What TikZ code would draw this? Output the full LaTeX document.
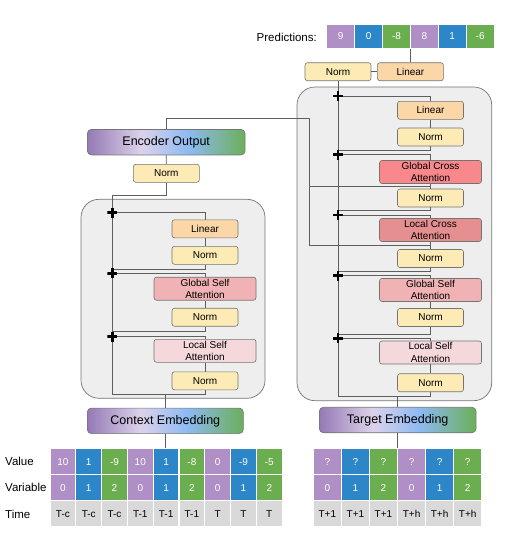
\documentclass[tikz,border=0pt]{standalone}
\usepackage{fontspec}
\setmainfont{Liberation Sans}
\usepackage{tikz}
\usetikzlibrary{positioning,calc}
\usepackage{xcolor}
\definecolor{varcol0}{HTML}{B08EC6}
\definecolor{varcol1}{HTML}{2C86C8}
\definecolor{varcol2}{HTML}{6BAE4F}
\definecolor{cellgray}{HTML}{D9D9D9}
\definecolor{normcol}{HTML}{FDEBB5}
\definecolor{lincol}{HTML}{FBD6A6}
\definecolor{gsacol}{HTML}{F0B2B4}
\definecolor{lsacol}{HTML}{F5D8DB}
\definecolor{gcacol}{HTML}{F8888B}
\definecolor{lcacol}{HTML}{E68F90}
\definecolor{stackcol}{HTML}{EEEEEE}
\definecolor{tfedge}{HTML}{747474}
\definecolor{tflinecol}{HTML}{5E5E5E}
\definecolor{embA}{HTML}{9579B5}
\definecolor{embB}{HTML}{DCD2EA}
\definecolor{embC}{HTML}{8DBAF2}
\definecolor{embD}{HTML}{6BAF5A}
\pgfdeclarehorizontalshading{tfembshade}{100bp}{color(0bp)=(embA); color(25bp)=(embA);
  color(42bp)=(embB); color(57bp)=(embC); color(75bp)=(embD); color(100bp)=(embD)}
\tikzset{
  tfblock/.style={draw=tfedge, line width=0.6pt, rounded corners=2.5pt, inner sep=0pt,
    align=center, font=\fontsize{10}{12.5}\selectfont},
  tfnorm/.style={tfblock, fill=normcol, minimum width=66pt, minimum height=18pt},
  tflinear/.style={tfblock, fill=lincol, minimum width=66pt, minimum height=18pt},
  tfattn/.style={tfblock, minimum width=102pt, minimum height=23pt},
  tfemb/.style={draw=tfedge, line width=0.6pt, rounded corners=4pt, shading=tfembshade,
    minimum height=25.5pt, inner sep=0pt, font=\fontsize{12.5}{14}\selectfont},
  tfstack/.style={draw=tfedge, line width=0.7pt, fill=stackcol, rounded corners=18pt},
  tfline/.style={draw=tflinecol, line width=0.9pt},
  tfplus/.style={minimum size=10pt, inner sep=0pt, path picture={
    \draw[line width=2.8pt, black] (path picture bounding box.north) -- (path picture bounding box.south)
      (path picture bounding box.west) -- (path picture bounding box.east);}},
  tfcell/.style={draw=white, line width=1.2pt, inner sep=0pt, text=white,
    font=\fontsize{10}{12}\selectfont},
  tflabel/.style={anchor=west, inner sep=0pt, font=\fontsize{11.5}{13}\selectfont},
}

\begin{document}
\begin{tikzpicture}[x=1pt, y=-1pt]
  \useasboundingbox (0,0) rectangle (508,554);

  % stacks
  \node[tfstack, minimum width=184pt, minimum height=199pt] (encstack) at (173,298.8) {};
  \node[tfstack, minimum width=194.7pt, minimum height=313.7pt] (decstack) at (394.35,243.85) {};

  % predictions
  \node[tflabel, anchor=east] (predlabel) at (317,37) {Predictions:};
  \foreach \v [count=\i from 0] in {9,0,-8,8,1,-6} {
    \pgfmathtruncatemacro\k{mod(\i,3)}
    \node[tfcell, fill=varcol\k, minimum width=27.9pt, minimum height=24.3pt]
      (pr\i) at ({340.65+27.9*\i},36.2) {\v};
  }
  \node[tfnorm] (dnormtop) at (338,71.7) {Norm};
  \node[tflinear] (dlintop) at (410.4,71.7) {Linear};

  % decoder
  \node[tflinear] (dlin) at (430.5,110.3) {Linear};
  \node[tfnorm] (dn1) at (430.5,137) {Norm};
  \node[tfattn, fill=gcacol] (dgca) at (430.5,172) {Global Cross\\Attention};
  \node[tfnorm] (dn2) at (430.5,198) {Norm};
  \node[tfattn, fill=lcacol] (dlca) at (430.5,230) {Local Cross\\Attention};
  \node[tfnorm] (dn3) at (430.5,258.5) {Norm};
  \node[tfattn, fill=gsacol] (dgsa) at (430.5,290) {Global Self\\Attention};
  \node[tfnorm] (dn4) at (430.5,317.5) {Norm};
  \node[tfattn, fill=lsacol] (dlsa) at (430.5,352.5) {Local Self\\Attention};
  \node[tfnorm] (dn5) at (430.5,382.7) {Norm};

  % encoder
  \node[tfemb, minimum width=157.7pt] (encout) at (166.2,142.2) {Encoder Output};
  \node[tfnorm] (en0) at (166.3,173.3) {Norm};
  \node[tflinear] (elin) at (205,228.8) {Linear};
  \node[tfnorm] (en1) at (205,255.3) {Norm};
  \node[tfattn, fill=gsacol] (egsa) at (205,288.7) {Global Self\\Attention};
  \node[tfnorm] (en2) at (205,317.2) {Norm};
  \node[tfattn, fill=lsacol] (elsa) at (205,350.8) {Local Self\\Attention};
  \node[tfnorm] (en3) at (205,380.8) {Norm};

  % embeddings
  \node[tfemb, minimum width=156pt] (ctx) at (165.3,420.8) {Context Embedding};
  \node[tfemb, minimum width=156.7pt] (tgt) at (397.7,420) {Target Embedding};

  % input tables
  \node[tflabel] (lblval) at (5,461.5) {Value};
  \node[tflabel] (lblvar) at (5,487.7) {Variable};
  \node[tflabel] (lbltime) at (5,514) {Time};
  \foreach \v/\t [count=\i from 0] in {10/T-c,1/T-c,-9/T-c,10/T-1,1/T-1,-8/T-1,0/T,-9/T,-5/T} {
    \pgfmathtruncatemacro\k{mod(\i,3)}
    \node[tfcell, fill=varcol\k, minimum width=25.8pt, minimum height=26pt]
      (cv\i) at ({62.9+25.8*\i},461.7) {\v};
    \node[tfcell, fill=varcol\k, minimum width=25.8pt, minimum height=26pt]
      (cn\i) at ({62.9+25.8*\i},487.7) {\k};
    \node[tfcell, fill=cellgray, text=black, minimum width=25.8pt, minimum height=26pt]
      (ct\i) at ({62.9+25.8*\i},513.7) {\t};
  }
  \foreach \t [count=\i from 0] in {T+1,T+1,T+1,T+h,T+h,T+h} {
    \pgfmathtruncatemacro\k{mod(\i,3)}
    \node[tfcell, fill=varcol\k, minimum width=28.07pt, minimum height=26pt]
      (rv\i) at ({327.35+28.07*\i},461.7) {?};
    \node[tfcell, fill=varcol\k, minimum width=28.07pt, minimum height=26pt]
      (rn\i) at ({327.35+28.07*\i},487.7) {\k};
    \node[tfcell, fill=cellgray, text=black, minimum width=28.07pt, minimum height=26pt]
      (rt\i) at ({327.35+28.07*\i},513.7) {\t};
  }

  % residual stream points
  \coordinate (dffnin) at (338,150);
  \coordinate (dgcain) at (338,210.7);
  \coordinate (dlcain) at (338,271.5);
  \coordinate (dgsain) at (338,334);
  \coordinate (dlsain) at (338,396);
  \coordinate (dadd1) at (338,96);
  \coordinate (dadd2) at (338,154.5);
  \coordinate (dadd3) at (338,215);
  \coordinate (dadd4) at (338,275.5);
  \coordinate (dadd5) at (338,338.3);
  \coordinate (etop) at (112.3,195);
  \coordinate (effnin) at (112.3,269.3);
  \coordinate (egsain) at (112.3,331.7);
  \coordinate (elsain) at (112.3,394);
  \coordinate (eadd1) at (112.3,212.7);
  \coordinate (eadd2) at (112.3,273.3);
  \coordinate (eadd3) at (112.3,336.7);
  \coordinate (xturn) at (309,118.3);

  % decoder wiring
  \draw[tfline] (dlintop.north) -- (dlintop.north |- pr0.south);
  \draw[tfline] (dnormtop.east) -- (dlintop.west);
  \draw[tfline] (dnormtop.south) -- (dlsain) -| (dn5.south);
  \draw[tfline] (dn5.north) -- (dlsa.south);
  \draw[tfline] (dlsa.north) |- (dadd5);
  \draw[tfline] (dgsain) -| (dn4.south);
  \draw[tfline] (dn4.north) -- (dgsa.south);
  \draw[tfline] (dgsa.north) |- (dadd4);
  \draw[tfline] (dlcain) -| (dn3.south);
  \draw[tfline] (dn3.north) -- (dlca.south);
  \draw[tfline] (dlca.north) |- (dadd3);
  \draw[tfline] (dgcain) -| (dn2.south);
  \draw[tfline] (dn2.north) -- (dgca.south);
  \draw[tfline] (dgca.north) |- (dadd2);
  \draw[tfline] (dffnin) -| (dn1.south);
  \draw[tfline] (dn1.north) -- (dlin.south);
  \draw[tfline] (dlin.north) |- (dadd1);
  \draw[tfline] (tgt.north) -- (tgt.north |- dlsain);
  \draw[tfline] (tgt.south) -- (tgt.south |- rv0.north);

  % cross attention feed
  \draw[tfline] (encout.north) |- (xturn) |- ($(dlca.south)!0.5!(dn3.north)$);
  \draw[tfline] (xturn) |- ($(dgca.south)!0.5!(dn2.north)$);

  % encoder wiring
  \draw[tfline] (en0.north) -- (encout.south);
  \draw[tfline] (en0.south) |- (etop) -- (elsain) -| (en3.south);
  \draw[tfline] (en3.north) -- (elsa.south);
  \draw[tfline] (elsa.north) |- (eadd3);
  \draw[tfline] (egsain) -| (en2.south);
  \draw[tfline] (en2.north) -- (egsa.south);
  \draw[tfline] (egsa.north) |- (eadd2);
  \draw[tfline] (effnin) -| (en1.south);
  \draw[tfline] (en1.north) -- (elin.south);
  \draw[tfline] (elin.north) |- (eadd1);
  \draw[tfline] (ctx.north) -- (ctx.north |- elsain);
  \draw[tfline] (ctx.south) -- (ctx.south |- cv0.north);

  % adders
  \foreach \j in {1,...,5} \node[tfplus] (dplus\j) at (dadd\j) {};
  \foreach \j in {1,2,3} \node[tfplus] (eplus\j) at (eadd\j) {};
\end{tikzpicture}
\end{document}
